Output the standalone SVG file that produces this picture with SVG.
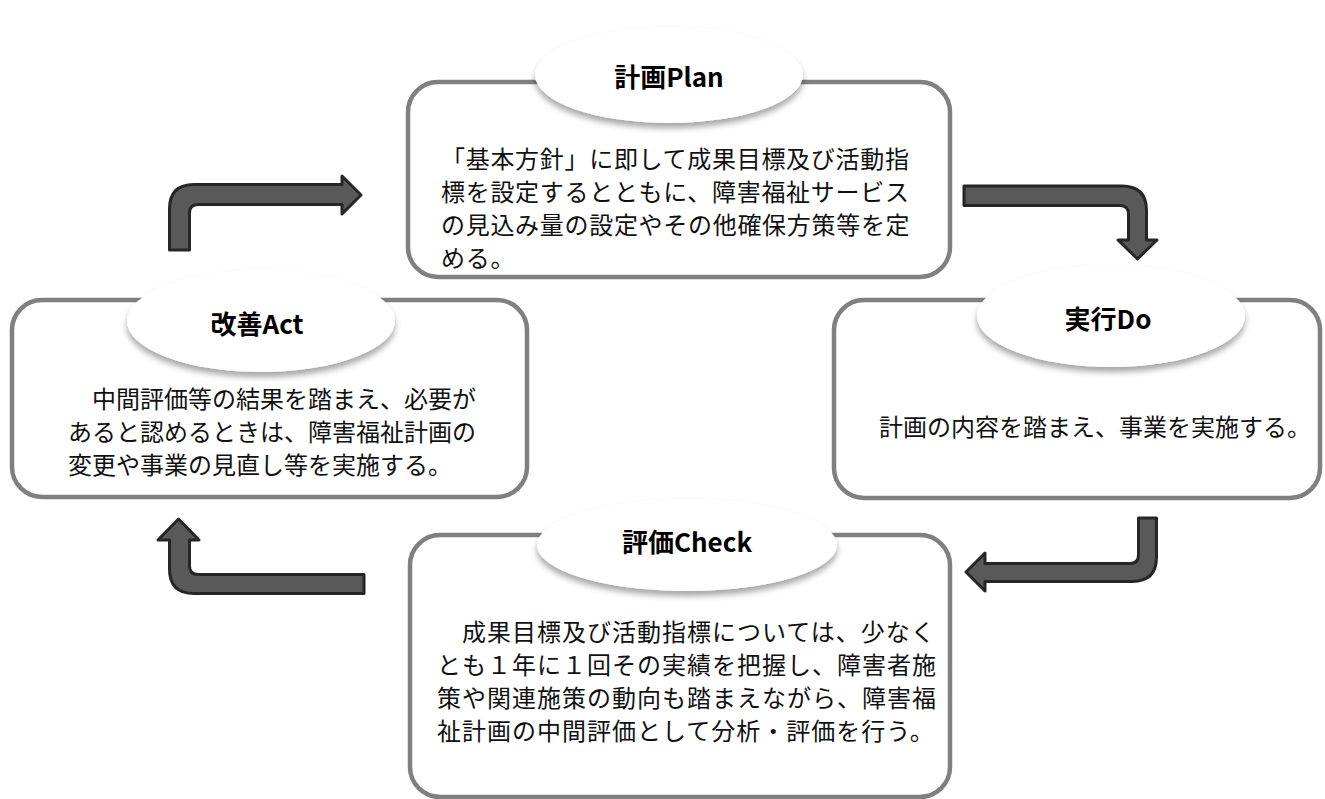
<svg xmlns="http://www.w3.org/2000/svg" width="1325" height="799" viewBox="0 0 1325 799">
<defs>
<filter id="shadow" x="-20%" y="-30%" width="140%" height="170%">
<feDropShadow dx="0" dy="5" stdDeviation="3" flood-color="#000" flood-opacity="0.35"/>
</filter>
<style>
.box{fill:#fff;stroke:#808080;stroke-width:4.5}
.lbl{fill:#fff;filter:url(#shadow)}
.ttl{font-family:"Noto Sans CJK JP","Noto Sans",sans-serif;font-weight:700;font-size:26px;fill:#000;text-anchor:middle;dominant-baseline:central}
.body{font-family:"Noto Sans CJK JP","Noto Sans",sans-serif;font-size:24px;fill:#111;dominant-baseline:central}
.arr{fill:#595959;stroke:#262626;stroke-width:3;stroke-linejoin:round}
</style>
</defs>
<rect width="1325" height="799" fill="#fff"/>

<g id="node-plan">
<rect class="box" x="408" y="82" width="542" height="195" rx="30"/>
<ellipse class="lbl" cx="669" cy="75" rx="134" ry="48"/>
<text class="ttl" x="669" y="75">計画Plan</text>
<text class="body" letter-spacing="0.7"><tspan x="441" y="157">「基本方針」に即して成果目標及び活動指</tspan><tspan x="441" y="190">標を設定するとともに、障害福祉サービス</tspan><tspan x="441" y="223">の見込み量の設定やその他確保方策等を定</tspan><tspan x="441" y="256">める。</tspan></text>
</g>

<g id="node-do">
<rect class="box" x="834" y="300" width="486" height="198" rx="30"/>
<ellipse class="lbl" cx="1111" cy="316" rx="134" ry="51"/>
<text class="ttl" x="1108" y="317">実行Do</text>
<text class="body" x="879" y="425">計画の内容を踏まえ、事業を実施する。</text>
</g>

<g id="node-act">
<rect class="box" x="12" y="300" width="515" height="197" rx="30"/>
<ellipse class="lbl" cx="261" cy="321" rx="134" ry="51"/>
<text class="ttl" x="257" y="322">改善Act</text>
<text class="body"><tspan x="68" y="397">　中間評価等の結果を踏まえ、必要が</tspan><tspan x="68" y="430">あると認めるときは、障害福祉計画の</tspan><tspan x="68" y="463">変更や事業の見直し等を実施する。</tspan></text>
</g>

<g id="node-check">
<rect class="box" x="410" y="535" width="540" height="262" rx="30"/>
<ellipse class="lbl" cx="687" cy="545" rx="150" ry="46"/>
<text class="ttl" x="687" y="540">評価Check</text>
<text class="body" letter-spacing="1"><tspan x="437" y="630">　成果目標及び活動指標については、少なく</tspan><tspan x="437" y="663">とも１年に１回その実績を把握し、障害者施</tspan><tspan x="437" y="696">策や関連施策の動向も踏まえながら、障害福</tspan><tspan x="437" y="729">祉計画の中間評価として分析・評価を行う。</tspan></text>
</g>

<g id="connectors">
<path class="arr" d="M169.5,250 L169.5,209 Q169.5,184.5 194,184.5 L342,184.5 L342,176 L361,195 L342,214 L342,204.5 L198,204.5 Q189.5,204.5 189.5,213 L189.5,250 Z"/>
<path class="arr" d="M964,186 L1122,186 Q1146.5,186 1146.5,210.5 L1146.5,240 L1157,240 L1137.5,259 L1118,240 L1128.5,240 L1128.5,214 Q1128.5,205.5 1120,205.5 L964,205.5 Z"/>
<path class="arr" d="M1138.5,518 L1156.5,518 L1156.5,557 Q1156.5,581.5 1132,581.5 L985,581.5 L985,591 L966,572 L985,553 L985,563.5 L1130,563.5 Q1138.5,563.5 1138.5,555 Z"/>
<path class="arr" d="M364,574.5 L364,593.5 L194,593.5 Q169.5,593.5 169.5,569 L169.5,540 L158,540 L178.5,519 L199,540 L189.5,540 L189.5,566 Q189.5,574.5 198,574.5 Z"/>
</g>
</svg>
